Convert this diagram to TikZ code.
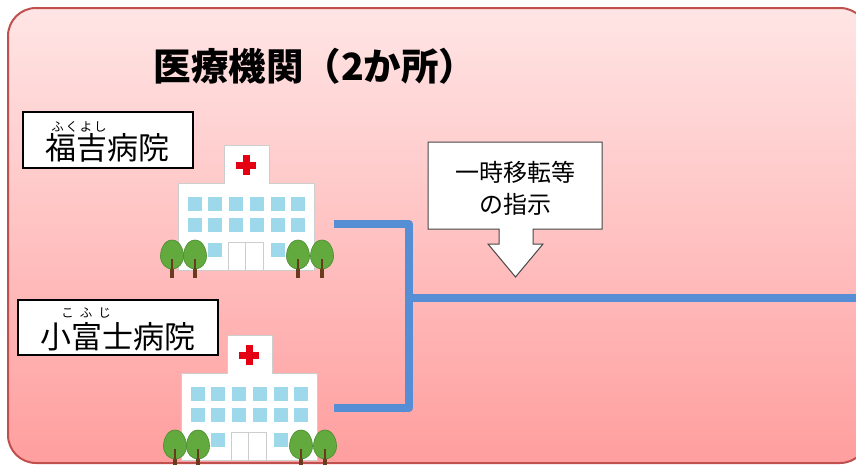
\documentclass[tikz,border=0pt]{standalone}
\usepackage{fontspec}
\newfontfamily\jp{Noto Sans CJK JP}
\definecolor{panelTop}{RGB}{255,229,229}
\definecolor{panelBottom}{RGB}{255,158,158}
\definecolor{panelEdge}{RGB}{192,80,77}
\definecolor{linkBlue}{RGB}{85,142,213}
\definecolor{winBlue}{RGB}{158,216,235}
\definecolor{crossRed}{RGB}{228,0,18}
\definecolor{leaf}{RGB}{98,170,62}
\definecolor{leafEdge}{RGB}{72,140,46}
\definecolor{trunkBrown}{RGB}{105,58,30}
\definecolor{wallEdge}{RGB}{205,205,205}
\definecolor{calloutEdge}{RGB}{70,70,70}
\tikzset{
  titletext/.style={font=\jp\bfseries\fontsize{37.5}{37.5}\selectfont, inner sep=0pt},
  nametext/.style={font=\jp\fontsize{31}{31}\selectfont, inner sep=0pt},
  rubytext/.style={font=\jp\fontsize{12.5}{12.5}\selectfont, inner sep=0pt},
  namebox/.style={draw=black, line width=2.2pt, fill=white, inner sep=0pt},
  link/.style={draw=linkBlue, line width=8pt, line join=round},
  tree/.pic={
    \fill[trunkBrown] (-1.6,0) rectangle (1.6,24);
    \draw[trunkBrown, line width=1pt] (0,15) -- (-4,11);
    \filldraw[fill=leaf, draw=leafEdge, line width=0.6pt] (0,-14) .. controls (7.5,-14) and (11.5,-5) .. (11.5,2)
      .. controls (11.5,10) and (6,15) .. (0,15) .. controls (-6,15) and (-11.5,10) .. (-11.5,2)
      .. controls (-11.5,-5) and (-7.5,-14) .. (0,-14) -- cycle;
    \fill[trunkBrown] (-1.2,5) rectangle (1.2,15);
  },
  hospital/.pic={
    % main block and tower
    \filldraw[fill=white, draw=wallEdge, line width=0.8pt] (-46,38) rectangle (90,125);
    \filldraw[fill=white, draw=wallEdge, line width=0.8pt] (0,0) rectangle (45,38);
    \fill[white] (0.5,37) rectangle (44.5,39);
    % red cross
    \fill[crossRed] (12,16.5) rectangle (32,23.5);
    \fill[crossRed] (18.5,10) rectangle (25.5,30);
    % windows
    \foreach \wx in {-36,-16,5,26,47,67} {
      \foreach \wy in {52,73} {
        \fill[winBlue] (\wx,\wy) rectangle ++(14,14);
      }
    }
    \foreach \wx in {-16,47} {
      \fill[winBlue] (\wx,98) rectangle ++(14,14);
    }
    % entrance
    \filldraw[fill=white, draw=wallEdge, line width=0.8pt] (4,97) rectangle (39,125);
    \draw[wallEdge, line width=0.8pt] (21.5,97) -- (21.5,125);
    % trees
    \pic at (-52,109) {tree};
    \pic at (-29,109) {tree};
    \pic at (74,109) {tree};
    \pic at (98,109) {tree};
  }
}
\begin{document}
\begin{tikzpicture}[x=1pt,y=-1pt]
\useasboundingbox (0,0) rectangle (856,464);
\clip (0,0) rectangle (856,464);

% panel
\shade[top color=panelTop, bottom color=panelBottom, rounded corners=28pt]
  (8,8) rectangle (868,463);
\draw[panelEdge, line width=2pt, rounded corners=28pt] (8,8) rectangle (868,463);

% heading
\node[titletext] (title) at (315,66) {医療機関（2か所）};

% hospital labels
\node[namebox, minimum width=170pt, minimum height=56pt] (box1) at (108,140) {};
\node[nametext] (name1) at (107,148) {福吉病院};
\node[rubytext] (ruby1) at (79,126.5) {ふ\hspace{1.8pt}く\hspace{1.8pt}よ\hspace{1.8pt}し};

\node[namebox, minimum width=200pt, minimum height=55pt] (box2) at (118,327.5) {};
\node[nametext] (name2) at (118,337) {小富士病院};
\node[rubytext] (ruby2) at (86,313) {こ\hspace{6pt}ふ\hspace{6pt}じ};

% hospital buildings
\pic (hosp1) at (224,145) {hospital};
\pic (hosp2) at (227,335) {hospital};

% connection points
\coordinate (hosp1out) at (334,224);
\coordinate (hosp2out) at (334,408);
\coordinate (joinTop) at (409,224);
\coordinate (joinBottom) at (409,408);
\coordinate (joinMid) at (409,298);
\coordinate (exitRight) at (860,298);

\draw[link] (hosp1out) -- (joinTop) -- (joinBottom) -- (hosp2out);
\draw[link] (joinMid) -- (exitRight);

% instruction callout
\filldraw[fill=white, draw=calloutEdge, line width=1pt]
  (428,142) -- (602,142) -- (602,229) -- (533,229) -- (533,244) -- (543,244)
  -- (515.5,277) -- (488,244) -- (499,244) -- (499,229) -- (428,229) -- cycle;
\node[font=\jp\fontsize{24}{32}\selectfont, align=center, inner sep=0pt] (order) at (515,188)
  {一時移転等\\の指示};
\end{tikzpicture}
\end{document}
